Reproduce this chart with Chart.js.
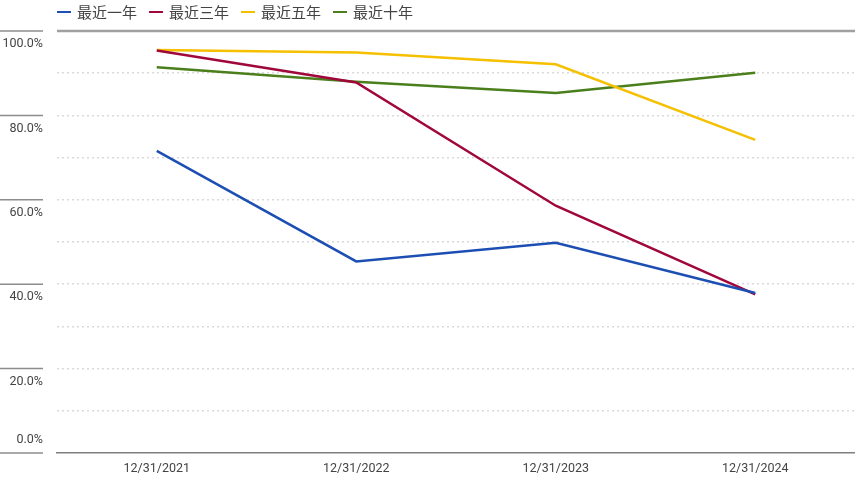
<!DOCTYPE html>
<html>
<head>
<meta charset="utf-8">
<script src="https://cdn.jsdelivr.net/npm/chart.js@4"></script>
<style>
  html, body { margin: 0; padding: 0; background: #fff; }
  #wrap { position: relative; width: 855px; height: 480px; }
  #legend {
    position: absolute; top: 1px; left: 57px;
    display: flex; gap: 12px;
    font-family: 'Noto Sans CJK SC', sans-serif; font-size: 15px; color: #444;
  }
  #legend span.item { display: flex; align-items: center; }
  #legend span.mark { display: inline-block; width: 14px; height: 2px; margin-right: 6px; }
</style>
</head>
<body>
<div id="wrap">
  <div id="legend"></div>
  <canvas id="c" width="855" height="480"></canvas>
</div>
<script>
// Data
const categories = ['12/31/2021', '12/31/2022', '12/31/2023', '12/31/2024'];
const seriesNames = ['最近一年', '最近三年', '最近五年', '最近十年'];
const oneYear = [71.6, 45.4, 49.8, 37.9];
const threeYear = [95.4, 87.8, 58.6, 37.6];
const fiveYear = [95.5, 94.9, 92.1, 74.2];
const tenYear = [91.4, 88.0, 85.3, 90.1];
const yTickValues = [0, 20, 40, 60, 80, 100];

const colors = ['#1c4eb3', '#a0073b', '#f5c000', '#4b7f1c'];
const seriesValues = [oneYear, threeYear, fiveYear, tenYear];
const tickFont = "Roboto, 'Liberation Sans', sans-serif";

// Legend as plain HTML so it can start at the plot's left edge
const legendEl = document.getElementById('legend');
seriesNames.forEach((name, i) => {
  const item = document.createElement('span');
  item.className = 'item';
  item.innerHTML = `<span class="mark" style="background:${colors[i]}"></span>${name}`;
  legendEl.appendChild(item);
});

// Left-hand tick marks and labels sit under a short line, like the original
const leftAxisPlugin = {
  id: 'leftAxis',
  afterDraw(chart) {
    const { ctx, chartArea } = chart;
    const y = chart.scales.y;
    ctx.save();
    // solid top rule
    ctx.strokeStyle = '#a0a0a0';
    ctx.lineWidth = 2.5;
    ctx.beginPath();
    ctx.moveTo(chartArea.left, y.getPixelForValue(100));
    ctx.lineTo(chartArea.right, y.getPixelForValue(100));
    ctx.stroke();

    ctx.font = `12.5px ${tickFont}`;
    ctx.fillStyle = '#444';
    ctx.textAlign = 'right';
    ctx.textBaseline = 'middle';
    yTickValues.forEach(v => {
      const py = y.getPixelForValue(v);
      ctx.strokeStyle = '#8c8c8c';
      ctx.lineWidth = 1.5;
      ctx.beginPath();
      ctx.moveTo(0, py);
      ctx.lineTo(43, py);
      ctx.stroke();
      const ly = v === 0 ? py - 13 : py + 13;
      ctx.fillText(v.toFixed(1) + '%', 43, ly);
    });
    ctx.restore();
  }
};

new Chart(document.getElementById('c').getContext('2d'), {
  type: 'line',
  data: {
    labels: categories,
    datasets: seriesNames.map((name, i) => ({
      label: name,
      data: seriesValues[i],
      borderColor: colors[i],
      backgroundColor: colors[i],
      borderWidth: 2.5,
      pointRadius: 0,
      tension: 0,
    })),
  },
  options: {
    responsive: false,
    animation: false,
    layout: { padding: { left: 57, right: 0, top: 31, bottom: 5 } },
    plugins: {
      legend: { display: false },
      tooltip: { enabled: false },
    },
    scales: {
      x: {
        offset: true,
        grid: { display: false, drawTicks: false },
        border: { color: '#7f7f7f', width: 1.5 },
        ticks: { color: '#444', padding: 8, font: { size: 12.5, family: tickFont } },
        afterFit: scale => { scale.height = 22; },
      },
      y: {
        min: 0,
        max: 100,
        ticks: { display: false, stepSize: 10 },
        grid: {
          drawTicks: false,
          lineWidth: 1.5,
          color: ctx => (ctx.tick.value === 0 || ctx.tick.value === 100) ? 'rgba(0,0,0,0)' : '#d9d9d9',
        },
        border: { display: false, dash: [2, 3] },
        afterFit: scale => { scale.width = 0; },
      },
    },
  },
  plugins: [leftAxisPlugin],
});
</script>
</body>
</html>
